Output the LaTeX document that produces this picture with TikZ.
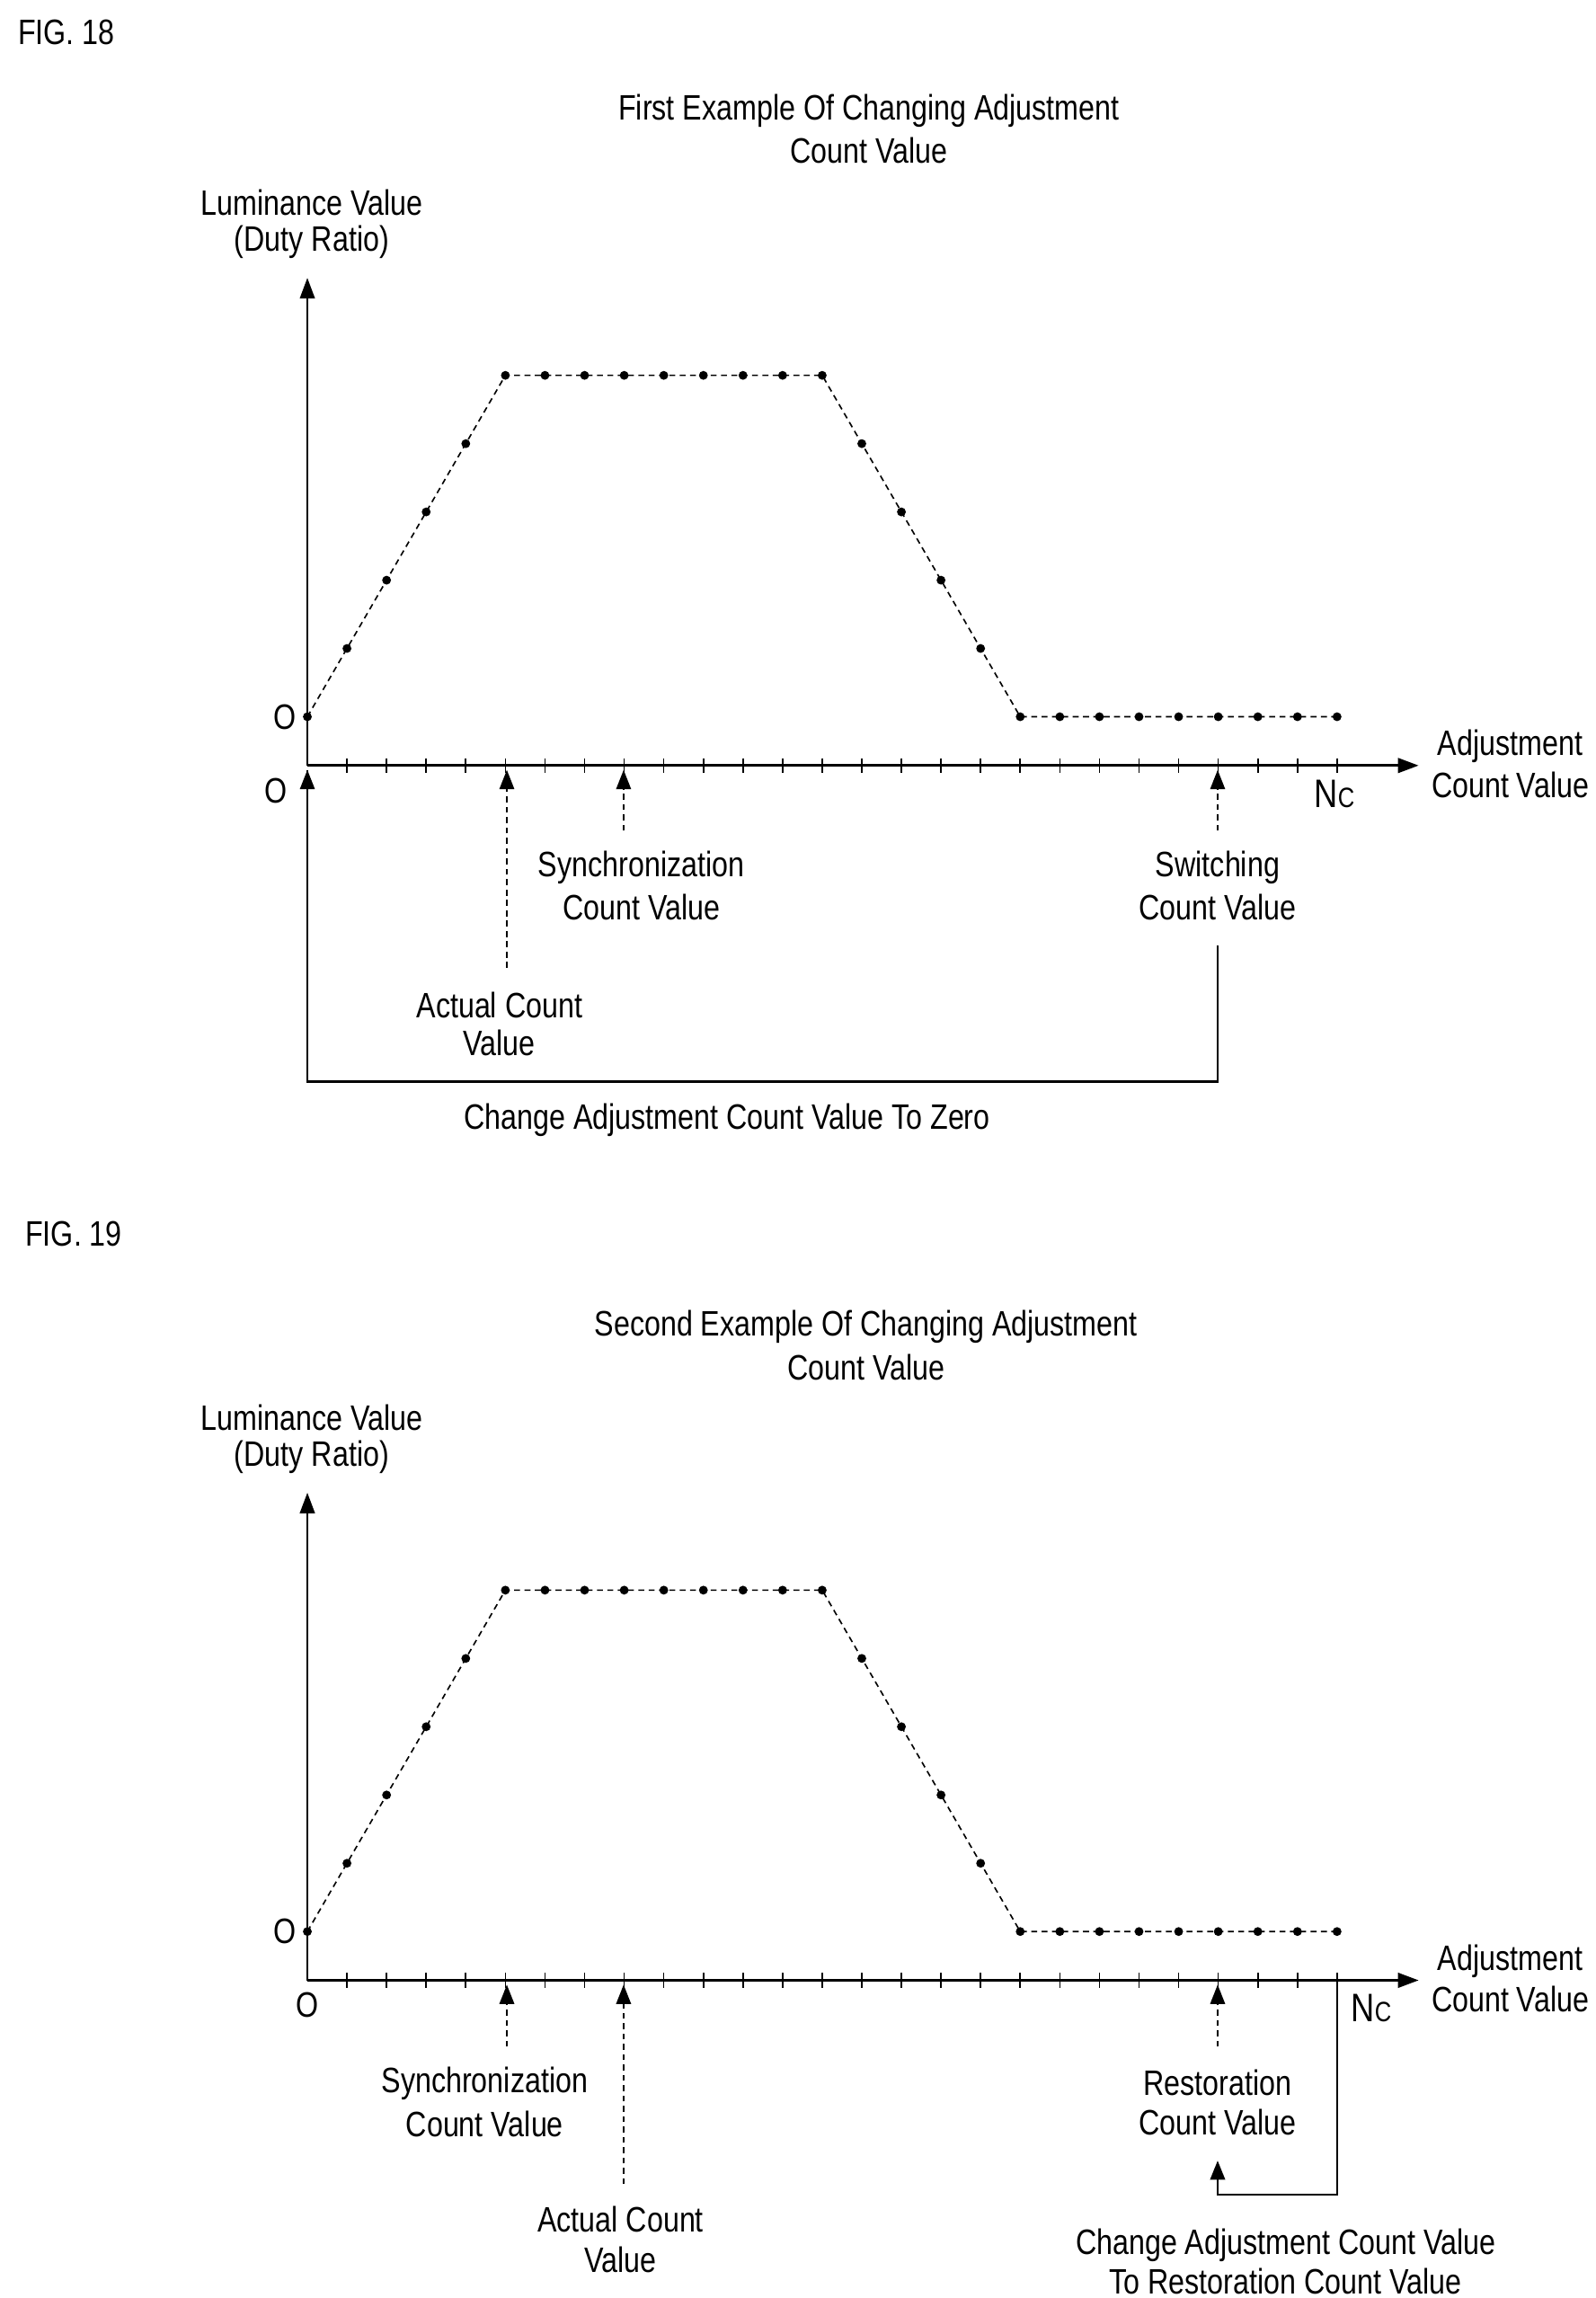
\documentclass[tikz,border=0pt]{standalone}
\usepackage{fontspec}
\setmainfont{Liberation Sans}[FakeStretch=0.82]
\usetikzlibrary{arrows.meta}
\begin{document}
\begin{tikzpicture}[x=1bp,y=-1bp,
  txt/.style={font=\fontsize{24}{26}\selectfont, inner sep=0pt},
  axis/.style={line width=1.6pt,-{Triangle[length=14bp,width=10bp]}},
  ptr/.style={line width=1pt,dashed,dash pattern=on 4bp off 3bp,-{Triangle[length=13bp,width=10bp]}},
  solidp/.style={line width=1.6pt},
  curve/.style={line width=1pt,dash pattern=on 4bp off 3bp},
  dot/.style={circle,fill,inner sep=0pt,minimum size=6bp}]
\useasboundingbox (0,0) rectangle (1080,1555);
\def\dx{26.8}
\foreach \oy/\fig/\ttl/\num in {0/18/First/18, 822/19/Second/19}{
 \begin{scope}[yshift=-\oy bp]
  \coordinate (o\num) at (208,518);
  \coordinate (yt\num) at (208,188);
  \coordinate (xt\num) at (960,518);
  \draw[axis] (o\num) -- (yt\num);
  \draw[axis] (o\num) -- (xt\num);
  \foreach \i in {1,...,26}{\draw[line width=1pt] (208+\i*\dx,513) -- (208+\i*\dx,523);}
  \draw[curve] (208,485) -- (208+5*\dx,254) -- (208+13*\dx,254) -- (208+18*\dx,485) -- (208+26*\dx,485);
  \foreach \i in {0,...,5}{\node[dot] (r\num\i) at (208+\i*\dx,485-\i*46.2) {};}
  \foreach \i in {6,...,13}{\node[dot] (f\num\i) at (208+\i*\dx,254) {};}
  \foreach \i in {14,...,18}{\node[dot] (d\num\i) at (208+\i*\dx,254+\i*46.2-13*46.2) {};}
  \foreach \i in {19,...,26}{\node[dot] (z\num\i) at (208+\i*\dx,485) {};}
  \node[txt] (lum\num) at (211,137) {Luminance Value};
  \node[txt] (dr\num) at (211,164) {(Duty Ratio)};
  \node[txt] (oy\num) at (193,485) {O};
  \node[txt] (adj\num) at (1022,505) {Adjustment};
  \node[txt] (acv\num) at (1022,531) {Count Value};
 \end{scope}}
\node[txt,anchor=west] (fig18) at (12,22) {FIG. 18};
\node[txt] (t18a) at (588,75) {First Example Of Changing Adjustment};
\node[txt] (t18b) at (588,102) {Count Value};
\node[txt] (ox18) at (187,535) {O};
\node[txt] (nc18) at (903,537) {\fontsize{27}{28}\selectfont N\fontsize{19}{20}\selectfont C};
\coordinate (a18s) at (343,655); \coordinate (a18e) at (343,521);
\draw[ptr] (a18s) -- (a18e);
\node[txt] (al18a) at (338,680) {Actual Count};
\node[txt] (al18b) at (338,706) {Value};
\coordinate (s18s) at (422,562); \coordinate (s18e) at (422,521);
\draw[ptr] (s18s) -- (s18e);
\node[txt] (sl18a) at (434,587) {Synchronization};
\node[txt] (sl18b) at (434,614) {Count Value};
\coordinate (w18s) at (824,562); \coordinate (w18e) at (824,521);
\draw[ptr] (w18s) -- (w18e);
\node[txt] (wl18a) at (824,587) {Switching};
\node[txt] (wl18b) at (824,614) {Count Value};
\coordinate (c18a) at (824,640); \coordinate (c18b) at (824,732);
\coordinate (c18c) at (208,732); \coordinate (c18d) at (208,521);
\draw[solidp] (c18a) -- (c18b) -- (c18c) -- (c18d);
\draw[line width=1pt,-{Triangle[length=13bp,width=10bp]}] (208,540) -- (c18d);
\node[txt] (cl18) at (492,758) {Change Adjustment Count Value To Zero};
\node[txt,anchor=west] (fig19) at (17,835) {FIG. 19};
\node[txt] (t19a) at (586,898) {Second Example Of Changing Adjustment};
\node[txt] (t19b) at (586,925) {Count Value};
\node[txt] (ox19) at (208,1357) {O};
\node[txt] (nc19) at (928,1359) {\fontsize{27}{28}\selectfont N\fontsize{19}{20}\selectfont C};
\coordinate (s19s) at (343,1385); \coordinate (s19e) at (343,1343);
\draw[ptr] (s19s) -- (s19e);
\node[txt] (sl19a) at (328,1410) {Synchronization};
\node[txt] (sl19b) at (328,1437) {Count Value};
\coordinate (a19s) at (422,1478); \coordinate (a19e) at (422,1343);
\draw[ptr] (a19s) -- (a19e);
\node[txt] (al19a) at (420,1502) {Actual Count};
\node[txt] (al19b) at (420,1529) {Value};
\coordinate (r19s) at (824,1385); \coordinate (r19e) at (824,1343);
\draw[ptr] (r19s) -- (r19e);
\node[txt] (rl19a) at (824,1409) {Restoration};
\node[txt] (rl19b) at (824,1436) {Count Value};
\coordinate (c19a) at (905,1340); \coordinate (c19b) at (905,1485);
\coordinate (c19c) at (824,1485); \coordinate (c19d) at (824,1462);
\draw[solidp,-{Triangle[length=13bp,width=10bp]}] (c19a) -- (c19b) -- (c19c) -- (c19d);
\node[txt] (cl19a) at (870,1519) {Change Adjustment Count Value};
\node[txt] (cl19b) at (870,1544) {To Restoration Count Value};
\end{tikzpicture}
\end{document}
